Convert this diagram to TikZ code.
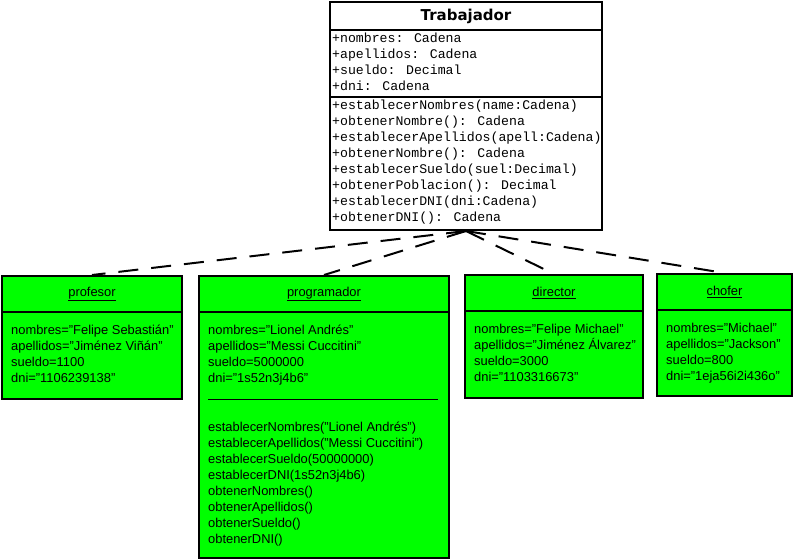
\documentclass[tikz,border=0pt]{standalone}
\usepackage{fontspec}
\setmainfont{Liberation Sans}
\newfontfamily\monofont{Liberation Mono}
\newfontfamily\titlefont{DejaVu Sans}
\usetikzlibrary{positioning}
\definecolor{objverde}{RGB}{0,255,0}

\tikzset{
  clase/.style={draw=black, line width=2pt, inner sep=0pt, anchor=north west, minimum width=272pt},
  objeto/.style={draw=black, line width=2pt, fill=objverde, inner sep=0pt, anchor=north west, font=\fontsize{12.9}{16}\selectfont},
  mono/.style={anchor=base west, align=left, inner sep=0pt, font=\monofont\fontsize{13.2}{16}\selectfont},
  valores/.style={anchor=base west, align=left, inner sep=0pt, font=\fontsize{12.9}{16}\selectfont},
  realiza/.style={line width=2pt, dash pattern=on 20pt off 13pt}
}

\begin{document}
\begin{tikzpicture}[x=1pt,y=-1pt]
\useasboundingbox (0,0) rectangle (793,558);

% clase Trabajador (textos puestos por la linea de base de la ultima linea)
\node[clase, minimum height=28pt, font=\titlefont\bfseries\fontsize{15}{18}\selectfont] (trabtitulo) at (329,1) {Trabajador};
\node[clase, minimum height=67pt] (trabattr) at (329,29) {};
\node[clase, minimum height=133pt] (trabmet) at (329,96) {};
\node[mono] (trabattrtxt) at (332,90) {+nombres: Cadena\\+apellidos: Cadena\\+sueldo: Decimal\\+dni: Cadena};
\node[mono] (trabmettxt) at (332,221) {+establecerNombres(name:Cadena)\\+obtenerNombre(): Cadena\\+establecerApellidos(apell:Cadena)\\+obtenerNombre(): Cadena\\+establecerSueldo(suel:Decimal)\\+obtenerPoblacion(): Decimal\\+establecerDNI(dni:Cadena)\\+obtenerDNI(): Cadena};

% objetos
\node[objeto, minimum width=180pt, minimum height=36pt] (prof) at (1,275) {\underline{profesor}};
\node[objeto, minimum width=180pt, minimum height=87pt] (profb) at (1,311) {};
\node[valores] (proftxt) at (11,382) {nombres="Felipe Sebastián"\\apellidos="Jiménez Viñán"\\sueldo=1100\\dni="1106239138"};

\node[objeto, minimum width=250pt, minimum height=36pt] (prog) at (198,275) {\underline{programador}};
\node[objeto, minimum width=250pt, minimum height=246pt] (progb) at (198,311) {};
\node[valores] (progtxt) at (208,382) {nombres="Lionel Andrés"\\apellidos="Messi Cuccitini"\\sueldo=5000000\\dni="1s52n3j4b6"};
\draw[line width=1pt] (208,399) -- (438,399);
\node[valores] (progmet) at (208,543) {establecerNombres("Lionel Andrés")\\establecerApellidos("Messi Cuccitini")\\establecerSueldo(50000000)\\establecerDNI(1s52n3j4b6)\\obtenerNombres()\\obtenerApellidos()\\obtenerSueldo()\\obtenerDNI()};

\node[objeto, minimum width=178pt, minimum height=36pt] (dir) at (464,274) {\underline{director}};
\node[objeto, minimum width=178pt, minimum height=87pt] (dirb) at (464,310) {};
\node[valores] (dirtxt) at (474,381) {nombres="Felipe Michael"\\apellidos="Jiménez Álvarez"\\sueldo=3000\\dni="1103316673"};

\node[objeto, minimum width=135pt, minimum height=36pt] (chof) at (656,273) {\underline{chofer}};
\node[objeto, minimum width=135pt, minimum height=86pt] (chofb) at (656,309) {};
\node[valores] (choftxt) at (666,380) {nombres="Michael"\\apellidos="Jackson"\\sueldo=800\\dni="1eja56i2i436o"};

% relaciones
\draw[realiza] (trabmet.south) -- (prof.north);
\draw[realiza] (trabmet.south) -- (prog.north);
\draw[realiza] (trabmet.south) -- (dir.north);
\draw[realiza] (trabmet.south) -- (chof.north);
\end{tikzpicture}
\end{document}
